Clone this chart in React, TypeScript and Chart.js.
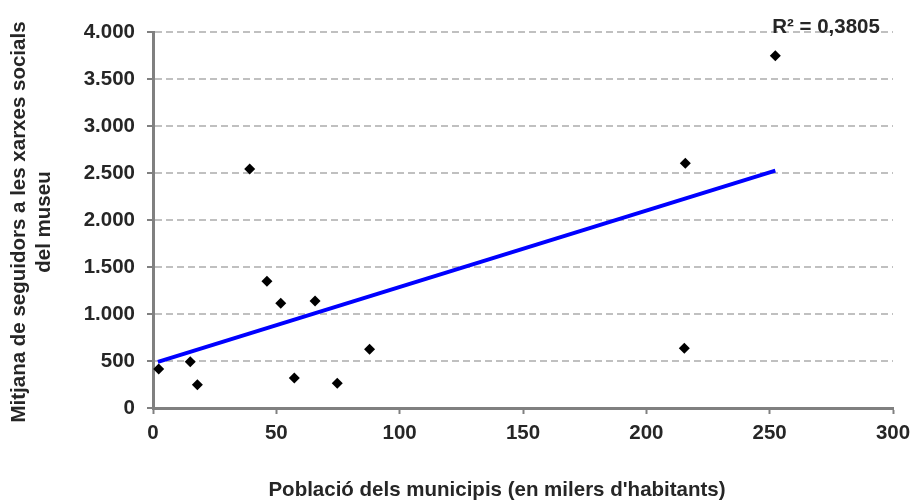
import React, { useEffect, useRef } from "react";
import { Chart, registerables } from "chart.js";

Chart.register(...registerables);

// Població (milers d'habitants) -> mitjana de seguidors
const poblacio: number[] = [2.3, 15.1, 18, 39.2, 46.2, 51.8, 57.3, 65.7, 74.7, 87.8, 215.8, 215.4, 252.3];
const seguidors: number[] = [415, 493, 248, 2543, 1348, 1114, 319, 1138, 262, 624, 2603, 635, 3748];

// Línia de tendència (extrems llegits del gràfic)
const trendX: number[] = [2, 252.3];
const trendY: number[] = [490, 2525];

const yTicks: number[] = [0, 500, 1000, 1500, 2000, 2500, 3000, 3500, 4000];
const xTicks: number[] = [0, 50, 100, 150, 200, 250, 300];

const yTitleLines: string[] = ["Mitjana de seguidors a les xarxes socials", "del museu"];
const xTitle = "Població dels municipis (en milers d'habitants)";
const r2Label = "R² = 0,3805";

const FONT = "'Liberation Sans', Arial, sans-serif";
const TEXT = "#262626";
const FS = 20.5;

const fmt = (v: number) => String(v).replace(/\B(?=(\d{3})+(?!\d))/g, ".");

const titlesPlugin = {
  id: "customTitles",
  afterDraw(chart: any) {
    const ctx = chart.ctx as CanvasRenderingContext2D;
    const area = chart.chartArea;
    ctx.save();
    ctx.fillStyle = TEXT;
    ctx.font = `bold ${FS}px ${FONT}`;
    ctx.textAlign = "center";
    ctx.textBaseline = "middle";
    // x title
    ctx.fillText(xTitle, 497, 490);
    // y title
    const cy = (area.top + area.bottom) / 2 + 2;
    yTitleLines.forEach((line, i) => {
      ctx.save();
      ctx.translate(19 + i * 25, cy);
      ctx.rotate(-Math.PI / 2);
      ctx.fillText(line, 0, 0);
      ctx.restore();
    });
    // R²
    ctx.fillText(r2Label, 826, 27);
    ctx.restore();
  },
};

export default function App() {
  const ref = useRef<HTMLCanvasElement | null>(null);

  useEffect(() => {
    document.body.style.margin = "0";
    const canvas = ref.current;
    if (!canvas) return;
    const chart = new Chart(canvas, {
      type: "scatter",
      data: {
        datasets: [
          {
            label: "Museus",
            data: poblacio.map((x, i) => ({ x, y: seguidors[i] })),
            backgroundColor: "#000000",
            borderColor: "#000000",
            pointStyle: "rectRot",
            pointRadius: 5.5,
            pointBorderWidth: 0,
            showLine: false,
          },
          {
            label: "Tendència",
            data: trendX.map((x, i) => ({ x, y: trendY[i] })),
            borderColor: "#0000ff",
            backgroundColor: "#0000ff",
            borderWidth: 4,
            pointRadius: 0,
            showLine: true,
          },
        ],
      },
      options: {
        responsive: false,
        animation: false,
        devicePixelRatio: 1,
        layout: { autoPadding: false, padding: { left: 0, right: 19, top: 32, bottom: 0 } },
        plugins: {
          legend: { display: false },
          tooltip: { enabled: false },
          title: { display: false },
        },
        scales: {
          x: {
            type: "linear",
            min: 0,
            max: 300,
            afterFit: (s: any) => {
              s.height = 95;
              s.paddingLeft = 0;
              s.paddingRight = 0;
            },
            afterBuildTicks: (s: any) => {
              s.ticks = xTicks.map((v) => ({ value: v }));
            },
            ticks: {
              color: TEXT,
              font: { family: FONT, size: FS, weight: "bold" },
              padding: 7,
              maxRotation: 0,
              callback: (v: any) => fmt(Number(v)),
            },
            grid: {
              drawOnChartArea: false,
              drawTicks: true,
              tickLength: 6,
              tickColor: "#808080",
              tickWidth: 2,
            },
            border: { display: true, color: "#808080", width: 3 },
          },
          y: {
            type: "linear",
            min: 0,
            max: 4000,
            afterFit: (s: any) => {
              s.width = 153;
              s.paddingTop = 0;
              s.paddingBottom = 0;
            },
            afterBuildTicks: (s: any) => {
              s.ticks = yTicks.map((v) => ({ value: v }));
            },
            ticks: {
              color: TEXT,
              font: { family: FONT, size: FS, weight: "bold" },
              padding: 12,
              callback: (v: any) => fmt(Number(v)),
            },
            grid: {
              color: (c: any) => (c.tick && c.tick.value === 0 ? "rgba(0,0,0,0)" : "#c0c0c0"),
              lineWidth: 2,
              drawTicks: true,
              tickLength: 6,
              tickColor: "#808080",
              tickWidth: 2,
              tickBorderDash: [],
            },
            border: { display: true, color: "#808080", width: 3, dash: [7, 4] },
          },
        },
      },
      plugins: [titlesPlugin],
    } as any);
    return () => chart.destroy();
  }, []);

  return (
    <div style={{ position: "absolute", left: 0, top: 0, width: 912, height: 503, background: "#ffffff" }}>
      <canvas ref={ref} width={912} height={503} />
    </div>
  );
}
